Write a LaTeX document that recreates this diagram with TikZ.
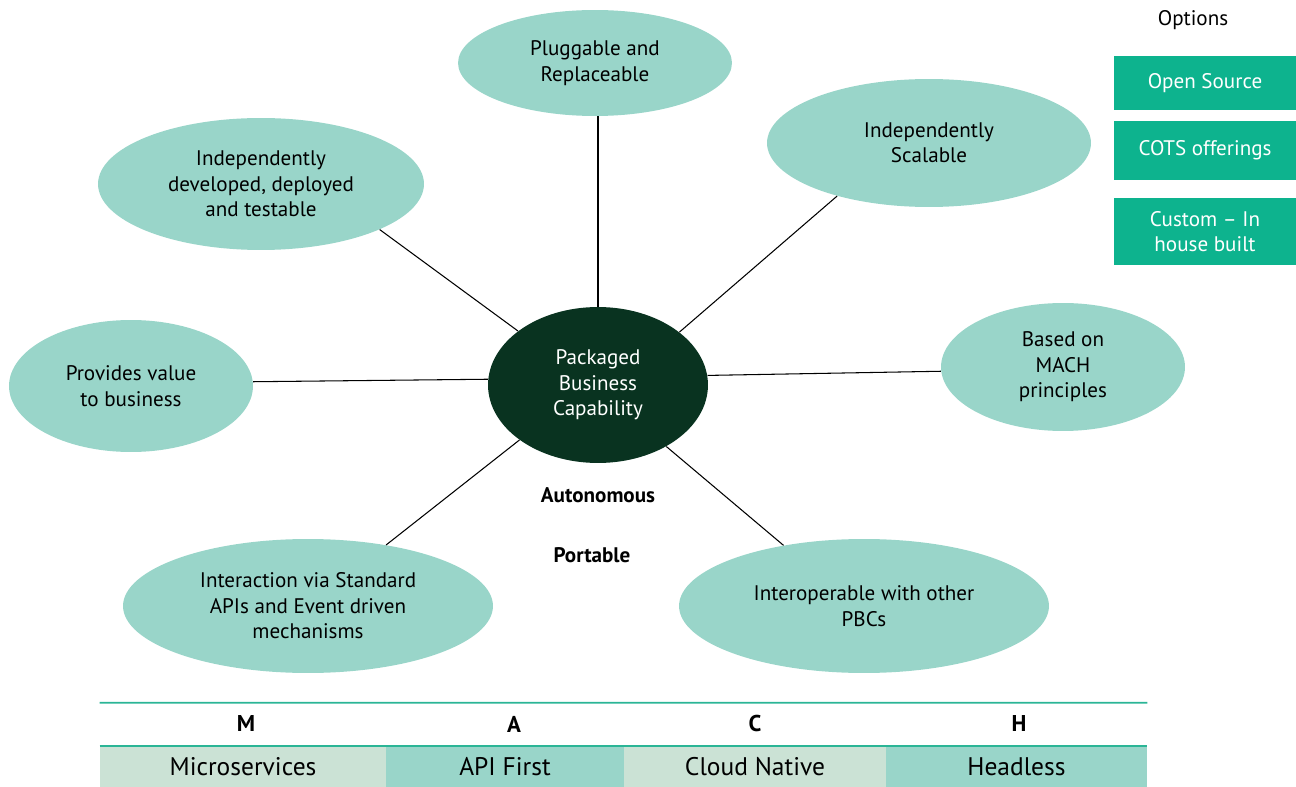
\documentclass[tikz,border=0pt]{standalone}
\usepackage{fontspec}
\setmainfont{PT Sans}
\usepackage{xcolor}
\usepackage{tikz}
\usetikzlibrary{shapes.geometric, positioning}
\definecolor{ovalfill}{HTML}{99D5C9}
\definecolor{pbcfill}{HTML}{093320}
\definecolor{optfill}{HTML}{0DB38E}
\definecolor{rowlight}{HTML}{CBE2D5}
\definecolor{rowline}{HTML}{2BB596}
\tikzstyle{trait} = [ellipse, fill=ovalfill, inner sep=0pt, align=center, font=\fontsize{12}{14.5}\selectfont]
\tikzstyle{core} = [ellipse, fill=pbcfill, text=white, inner sep=0pt, align=center, font=\fontsize{12}{14.5}\selectfont]
\tikzstyle{option} = [rectangle, fill=optfill, text=white, inner sep=0pt, align=center, font=\fontsize{12}{14.5}\selectfont]
\tikzstyle{machcell} = [rectangle, inner sep=0pt, font=\fontsize{14.5}{16}\selectfont]
\tikzstyle{link} = [semithick, black]
\begin{document}
\begin{tikzpicture}[x=0.02cm, y=-0.02cm]
            \useasboundingbox (0,0) rectangle (1296,787);
            % centre
            \node[core, minimum width=4.4cm, minimum height=3.12cm] (pbc) at (598,385) {Packaged\\Business\\Capability};
            % characteristics
            \node[trait, minimum width=5.48cm, minimum height=2.12cm] (plug) at (595,63) {Pluggable and\\Replaceable};
            \node[trait, minimum width=6.48cm, minimum height=2.56cm] (scal) at (929,143) {Independently\\Scalable};
            \node[trait, minimum width=6.52cm, minimum height=2.64cm] (indep) at (261,184) {Independently\\developed, deployed\\and testable};
            \node[trait, minimum width=4.88cm, minimum height=2.64cm] (value) at (131,386) {Provides value\\to business};
            \node[trait, minimum width=4.88cm, minimum height=2.56cm] (mach) at (1063,367) {Based on\\MACH\\principles};
            \node[trait, minimum width=7.4cm, minimum height=2.68cm] (api) at (308,606) {Interaction via Standard\\APIs and Event driven\\mechanisms};
            \node[trait, minimum width=7.4cm, minimum height=2.68cm] (interop) at (864,606) {Interoperable with other\\PBCs};
            \node[font=\bfseries\fontsize{12}{14}\selectfont] (auto) at (598,495) {Autonomous};
            \node[font=\bfseries\fontsize{12}{14}\selectfont] (port) at (592,555) {Portable};

            \draw[link] (pbc.north) -- (pbc.north |- plug.south);
            \draw[link] (pbc.33) -- (scal.-150);
            \draw[link] (pbc.146) -- (indep.-21);
            \draw[link] (pbc.177) -- (value.2);
            \draw[link] (pbc.5) -- (mach.182);
            \draw[link] (pbc.215) -- (api.38);
            \draw[link] (pbc.-42) -- (interop.143);

            % options
            \node[font=\fontsize{12}{14}\selectfont] (opts) at (1193,20) {Options};
            \node[option, minimum width=3.64cm, minimum height=1.08cm] (oss) at (1205,83) {Open Source};
            \node[option, minimum width=3.64cm, minimum height=1.18cm] (cots) at (1205,150.5) {COTS offerings};
            \node[option, minimum width=3.64cm, minimum height=1.34cm] (custom) at (1205,231.5) {Custom -- In\\house built};

            % MACH table
            \node[machcell, fill=rowlight, minimum width=5.72cm, minimum height=0.82cm] (micro) at (243,766.5) {Microservices};
            \node[machcell, fill=ovalfill, minimum width=4.76cm, minimum height=0.82cm] (apif) at (505,766.5) {API First};
            \node[machcell, fill=rowlight, minimum width=5.24cm, minimum height=0.82cm] (cloud) at (755,766.5) {Cloud Native};
            \node[machcell, fill=ovalfill, minimum width=5.22cm, minimum height=0.82cm] (head) at (1016.5,766.5) {Headless};
            \node[font=\bfseries\fontsize{13}{15}\selectfont] (lm) at (246,724) {M};
            \node[font=\bfseries\fontsize{13}{15}\selectfont] (la) at (514,724) {A};
            \node[font=\bfseries\fontsize{13}{15}\selectfont] (lc) at (755,724) {C};
            \node[font=\bfseries\fontsize{13}{15}\selectfont] (lh) at (1019,724) {H};
            \draw[rowline, line width=1pt] (micro.north west) ++(0,-43) -- ([yshift=0.86cm]head.north east);
            \draw[rowline, line width=1pt] (micro.north west) -- (head.north east);
        \end{tikzpicture}
\end{document}
